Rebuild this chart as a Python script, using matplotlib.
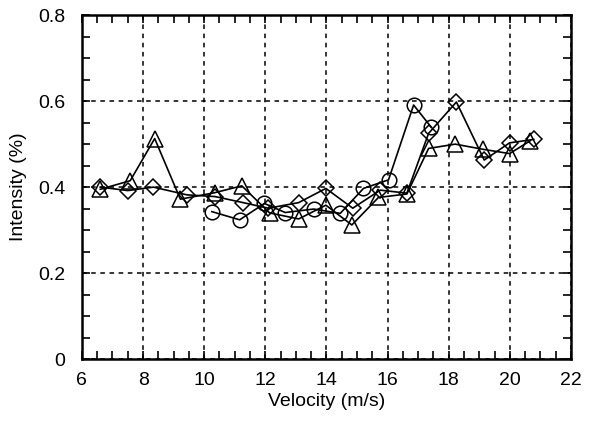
import matplotlib
matplotlib.use('Agg')
import matplotlib.pyplot as plt
from matplotlib.ticker import MultipleLocator

plt.rcParams['font.family'] = ['Liberation Sans', 'DejaVu Sans']

# Triangle series
vel_tri = [6.6, 7.58, 8.38, 9.22, 10.34, 11.23, 12.14, 13.09, 13.98, 14.83,
           15.7, 16.63, 17.34, 18.21, 19.12, 19.99, 20.67]
int_tri = [0.395, 0.415, 0.513, 0.372, 0.387, 0.403, 0.340, 0.326, 0.358, 0.312,
           0.376, 0.384, 0.490, 0.500, 0.488, 0.478, 0.508]

# Diamond series
vel_dia = [6.6, 7.5, 8.34, 9.44, 10.36, 11.27, 12.1, 13.09, 13.98, 14.86,
           15.76, 16.63, 17.34, 18.25, 19.16, 19.99, 20.78]
int_dia = [0.400, 0.392, 0.400, 0.382, 0.378, 0.364, 0.351, 0.364, 0.397, 0.351,
           0.393, 0.386, 0.525, 0.598, 0.463, 0.503, 0.511]

# Circle series
vel_cir = [10.25, 11.16, 11.97, 12.65, 13.58, 14.45, 15.21, 16.03, 16.85, 17.42]
int_cir = [0.343, 0.324, 0.362, 0.341, 0.349, 0.339, 0.397, 0.417, 0.591, 0.540]

yticks = [0, 0.2, 0.4, 0.6, 0.8]
ytick_labels = ['0', '0.2', '0.4', '0.6', '0.8']

fig = plt.figure(figsize=(6.16, 4.21), dpi=100)
ax = fig.add_axes([0.133, 0.147, 0.794, 0.817])

style = dict(color='black', lw=1.2, markerfacecolor='none', markeredgecolor='black',
             markeredgewidth=1.1, clip_on=False, zorder=3)
ax.plot(vel_cir, int_cir, marker='o', markersize=10.5, **style)
ax.plot(vel_dia, int_dia, marker='D', markersize=8, **style)
ax.plot(vel_tri, int_tri, marker='^', markersize=11, **style)

ax.set_xlim(6, 22)
ax.set_ylim(0, 0.8)
ax.xaxis.set_major_locator(MultipleLocator(2))
ax.xaxis.set_minor_locator(MultipleLocator(0.5))
ax.yaxis.set_minor_locator(MultipleLocator(0.05))
ax.set_yticks(yticks)
ax.set_yticklabels(ytick_labels)

ax.tick_params(which='both', direction='in', top=True, right=True, labelsize=14,
               width=1.2, color='black')
ax.tick_params(which='major', length=6)
ax.tick_params(axis='x', which='major', pad=9)
ax.tick_params(axis='y', which='major', pad=12)
ax.tick_params(which='minor', length=6)

ax.grid(True, which='major', color='black', linestyle=(0, (3, 3)), lw=1.1)
for s in ax.spines.values():
    s.set_linewidth(1.8)

ax.set_xlabel('Velocity (m/s)', fontsize=14, labelpad=3)
ax.set_ylabel('Intensity (%)', fontsize=14, labelpad=8)

fig.savefig('out.png', dpi=100)
